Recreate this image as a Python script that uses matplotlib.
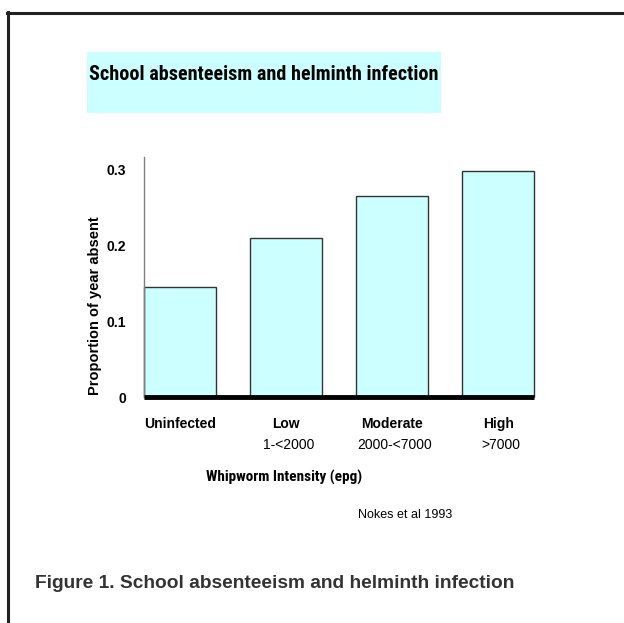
import matplotlib.pyplot as plt
from matplotlib.patches import Rectangle

plt.rcParams["font.family"] = ["Liberation Sans", "DejaVu Sans"]

categories = ["Uninfected", "Low", "Moderate", "High"]
ranges = ["", "1-<2000", "2000-<7000", ">7000"]
proportion_absent = [0.145, 0.21, 0.265, 0.298]
y_ticks = [0, 0.1, 0.2, 0.3]
y_tick_labels = ["0", "0.1", "0.2", "0.3"]

NARROW = ["Roboto Condensed", "Liberation Sans", "DejaVu Sans"]

fig = plt.figure(figsize=(6.24, 6.23), dpi=100)

# outer frame (top and left edges only)
fig.add_artist(plt.Line2D([0.0125, 0.0125], [0, 0.98], color="#222222", lw=2.2,
                          transform=fig.transFigure))
fig.add_artist(plt.Line2D([0.0115, 1.0], [0.979, 0.979], color="#222222", lw=2.2,
                          transform=fig.transFigure))

# title box
fig.add_artist(Rectangle((0.139, 0.819), 0.568, 0.098, transform=fig.transFigure,
                         facecolor="#ccffff", edgecolor="none"))
fig.text(0.423, 0.881, "School absenteeism and helminth infection", ha="center",
         va="center", fontsize=14.5, fontweight="bold", color="black", family=NARROW)

ax = fig.add_axes([0.231, 0.362, 0.625, 0.386])
x = range(len(categories))
ax.bar(x, proportion_absent, width=0.68, color="#ccffff", edgecolor="#333333",
       linewidth=1.0, zorder=2, clip_on=False)
ax.set_xlim(-0.34, 3.34)
ax.set_ylim(0, 0.317)

for side in ["top", "right"]:
    ax.spines[side].set_visible(False)
ax.spines["left"].set_color("#808080")
ax.spines["left"].set_linewidth(1.0)
ax.spines["bottom"].set_color("black")
ax.spines["bottom"].set_linewidth(3.5)
ax.spines["bottom"].set_capstyle("butt")
ax.spines["bottom"].set_zorder(3)

ax.set_yticks(y_ticks)
ax.set_yticklabels(y_tick_labels, fontweight="bold", fontsize=10)
ax.set_yticks([0.2], minor=True)
ax.tick_params(axis="y", which="major", length=0, pad=13)
ax.tick_params(axis="y", which="minor", length=6, color="#444444", width=0.8)

ax.set_xticks(list(x))
ax.set_xticklabels(categories, fontweight="bold", fontsize=10)
ax.tick_params(axis="x", length=0, pad=14)
for i, r in enumerate(ranges):
    ax.annotate(r, xy=(i, 0), xycoords=("data", "axes fraction"),
                xytext=(2, -34.5), textcoords="offset points", ha="center",
                va="center", fontsize=10)

fig.text(0.455, 0.234, "Whipworm Intensity (epg)", ha="center", va="center",
         fontsize=11, fontweight="bold", family=NARROW)
fig.text(0.152, 0.509, "Proportion of year absent", ha="center", va="center",
         rotation=90, fontsize=10.5, fontweight="bold")
fig.text(0.574, 0.173, "Nokes et al 1993", ha="left", va="center", fontsize=9)

fig.text(0.056, 0.064, "Figure 1. School absenteeism and helminth infection",
         ha="left", va="center", fontsize=13.8, fontweight="bold", color="#333333")

fig.savefig("out.png", dpi=100)
